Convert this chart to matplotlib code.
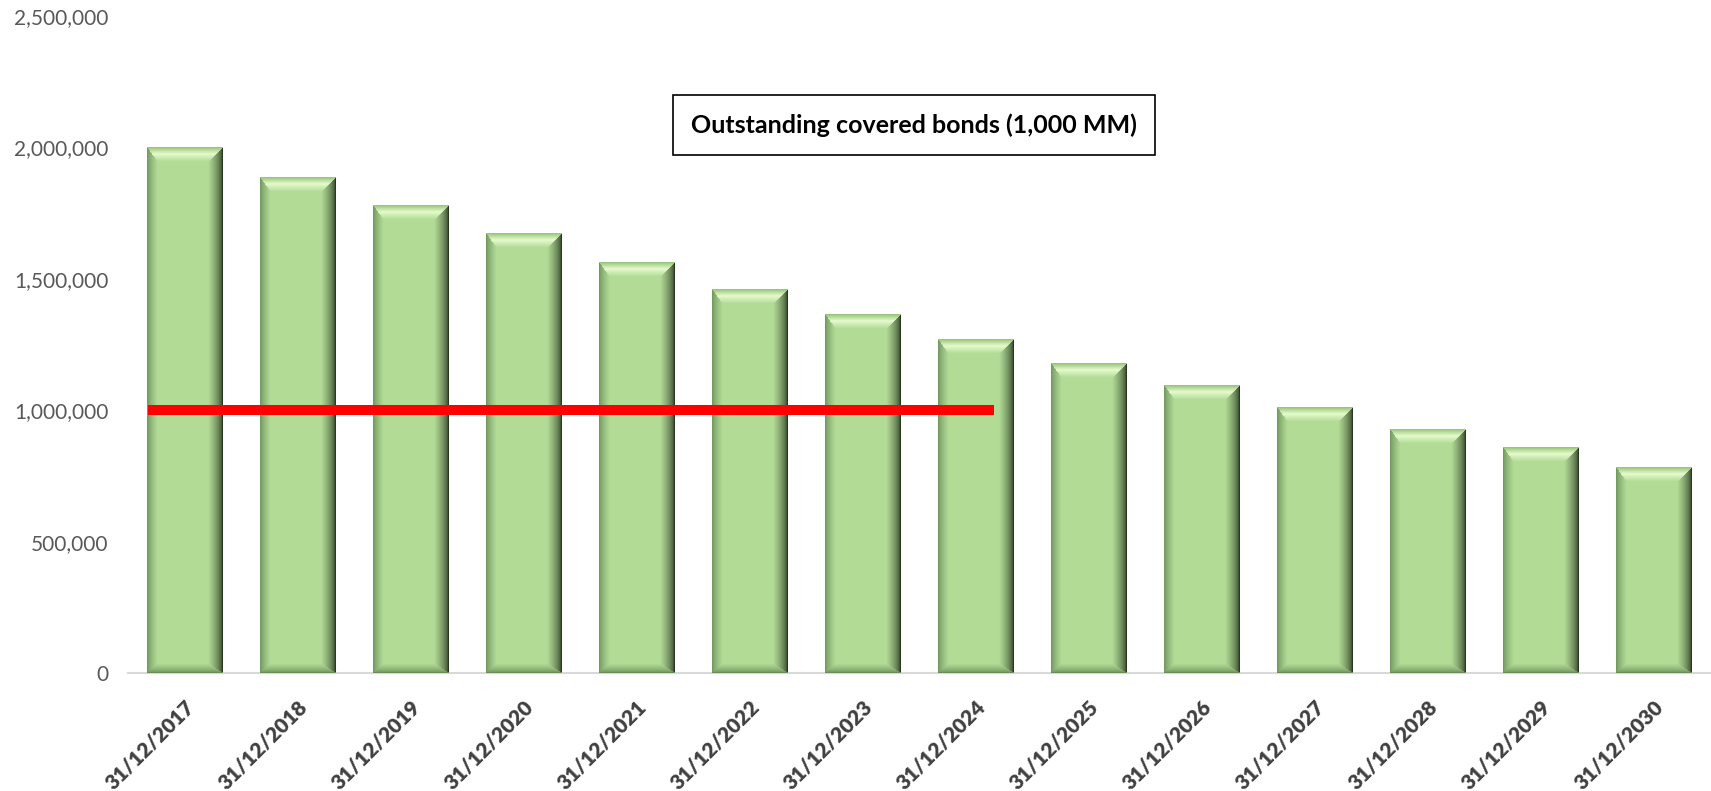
import numpy as np
import matplotlib
matplotlib.use("Agg")
import matplotlib.pyplot as plt
from matplotlib.ticker import FuncFormatter

# ── Datos ────────────────────────────────────────────────────────────────────
fechas = ["31/12/2017", "31/12/2018", "31/12/2019", "31/12/2020", "31/12/2021",
          "31/12/2022", "31/12/2023", "31/12/2024", "31/12/2025", "31/12/2026",
          "31/12/2027", "31/12/2028", "31/12/2029", "31/12/2030"]
saldo = [2000000, 1886000, 1779000, 1671000, 1563000, 1460000, 1365000,
         1268000, 1177000, 1095000, 1011000, 928000, 859000, 783000]
umbral = 1000000
umbral_desde, umbral_hasta = 0, 7
titulo = "Outstanding covered bonds (1,000 MM)"

# ── Figura ───────────────────────────────────────────────────────────────────
W, H, DPI = 1711, 791, 100
plt.rcParams["font.family"] = ["Lato", "DejaVu Sans"]
fig = plt.figure(figsize=(W / DPI, H / DPI), dpi=DPI)
ax = fig.add_axes([0.0748, 0.149, 0.9246, 0.831])

ymax = 2500000
ancho = 0.664
px_x = 0.9246 * W / len(fechas)
px_y = 0.831 * H / ymax

cara = np.array([0.70, 0.86, 0.59])
borde_sup = np.array([0.60, 0.78, 0.48])
brillo = np.array([0.90, 0.98, 0.80])
borde_der = np.array([0.16, 0.22, 0.13])
borde_izq = np.array([0.45, 0.60, 0.38])
borde_inf = np.array([0.42, 0.56, 0.35])


def bisel(w, h, bt=14, bb=9, bl=10, br=14):
    """Imagen RGB de una barra con efecto biselado (estilo Excel)."""
    ii, jj = np.mgrid[0:h, 0:w].astype(float)
    d = np.stack([ii / bt, (h - 1 - ii) / bb, jj / bl, (w - 1 - jj) / br])
    k = d.argmin(axis=0)
    m = np.clip(d.min(axis=0), 0, 1)[..., None]
    img = np.tile(cara, (h, w, 1))
    # superior: borde -> brillo -> cara
    top = np.where(m < 0.45, borde_sup + (brillo - borde_sup) * (m / 0.45),
                   brillo + (cara - brillo) * ((m - 0.45) / 0.55))
    inf = borde_inf + (cara - borde_inf) * m ** 0.7
    izq = borde_izq + (cara - borde_izq) * m ** 0.8
    der = borde_der + (cara - borde_der) * m ** 0.6
    sel = (d.min(axis=0) < 1)[..., None]
    for idx, col in enumerate([top, inf, izq, der]):
        mask = ((k == idx)[..., None]) & sel
        img = np.where(mask, col, img)
    return np.clip(img, 0, 1)


x = np.arange(len(fechas))
ax.bar(x, saldo, width=ancho, color=tuple(cara), zorder=2)
for xi, v in zip(x, saldo):
    w = int(round(ancho * px_x))
    h = max(int(round(v * px_y)), 2)
    ax.imshow(bisel(w, h), extent=(xi - ancho / 2, xi + ancho / 2, 0, v),
              aspect="auto", interpolation="bilinear", zorder=3)

# línea roja de referencia
ax.hlines(umbral, umbral_desde - 0.323, umbral_hasta + 0.164,
          color="#ff0000", linewidth=7.2, zorder=4)

ax.set_xlim(-0.5, len(fechas) - 0.5)
ax.set_ylim(0, ymax)
ax.set_yticks(np.arange(0, ymax + 1, 500000))
ax.yaxis.set_major_formatter(FuncFormatter(lambda v, p: f"{int(v):,}"))
ax.tick_params(axis="y", labelsize=15, labelcolor="#595959", length=0, pad=14)
ax.tick_params(axis="x", length=0, pad=17)
ax.set_xticks(x)
ax.set_xticklabels(fechas, rotation=45, ha="right", rotation_mode="anchor")
for lbl in ax.get_xticklabels():
    lbl.set_fontsize(15)
    lbl.set_fontweight("heavy")
    lbl.set_color("#404040")

for s in ["top", "right", "left"]:
    ax.spines[s].set_visible(False)
ax.spines["bottom"].set_color("#d9d9d9")
ax.spines["bottom"].set_linewidth(1.5)

# recuadro del título
fig.text(914 / W, 1 - 125 / H, titulo, ha="center", va="center",
         fontsize=18, fontweight="bold", color="black",
         bbox=dict(boxstyle="square,pad=0.72", facecolor="white",
                   edgecolor="black", linewidth=1.2))

fig.savefig("out.png", dpi=DPI)
